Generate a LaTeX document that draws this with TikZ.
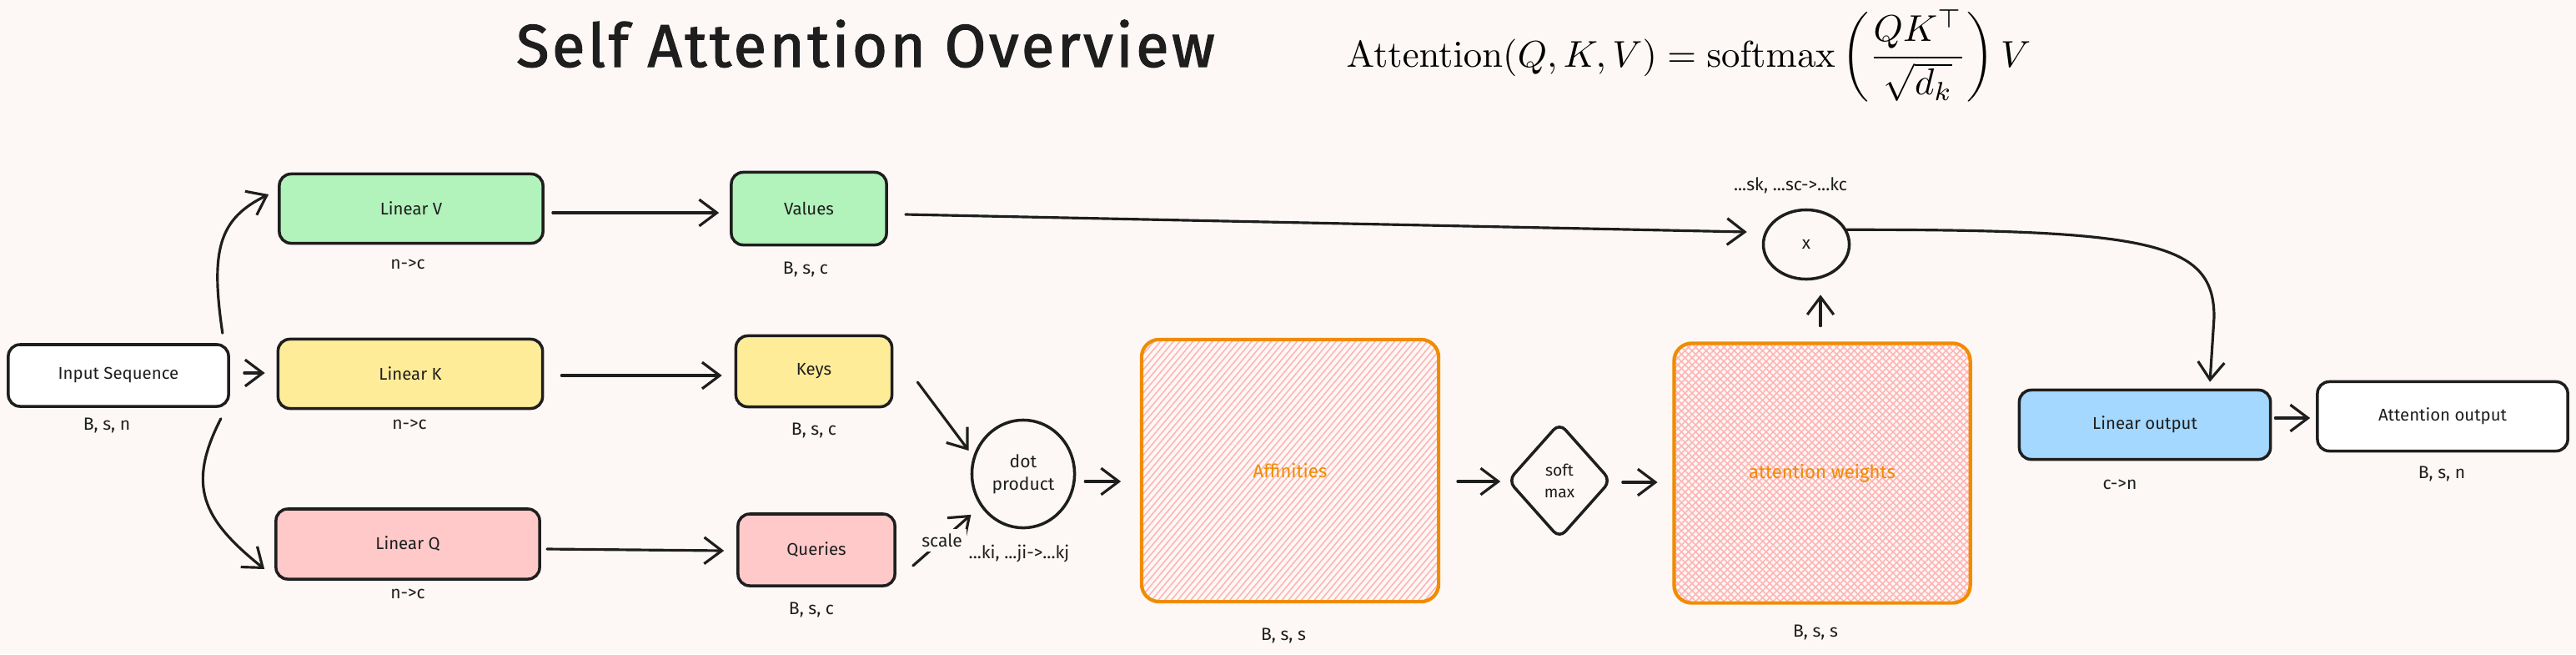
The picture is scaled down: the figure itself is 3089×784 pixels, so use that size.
\documentclass[tikz,border=0pt]{standalone}
\usepackage[no-math]{fontspec}
\setmainfont{Fira Sans}
\newfontfamily\titlefont{Fira Sans}[LetterSpace=5, FakeBold=1.8]
\usetikzlibrary{shapes.geometric, arrows.meta, patterns.meta, calc}
\definecolor{bg}{HTML}{FDF8F6}
\definecolor{ink}{HTML}{1E1E1E}
\definecolor{vgreen}{HTML}{B2F2BB}
\definecolor{kyellow}{HTML}{FFEC99}
\definecolor{qpink}{HTML}{FFC9C9}
\definecolor{oblue}{HTML}{A5D8FF}
\definecolor{orng}{HTML}{F08C00}
\definecolor{hatchc}{HTML}{FFB4B4}
\tikzset{
  box/.style={draw=ink, line width=1pt, rounded corners=4pt, inner sep=0pt,
    font=\fontsize{5.8pt}{7pt}\selectfont, text=ink},
  lbl/.style={font=\fontsize{6pt}{7pt}\selectfont, text=ink, inner sep=0pt},
  round/.style={draw=ink, line width=1pt, inner sep=0pt, align=center,
    font=\fontsize{6pt}{7.7pt}\selectfont, text=ink},
  big/.style={draw=orng, line width=1.2pt, rounded corners=6pt, inner sep=0pt,
    font=\fontsize{6.3pt}{7pt}\selectfont, text=orng},
  arr/.style={draw=ink, line width=0.9pt, line cap=round,
    -{Straight Barb[length=6pt,width=9pt,line width=0.9pt]}},
  onehatch/.style={pattern={Lines[angle=50,distance=1.7pt,line width=0.45pt]}, pattern color=hatchc},
  crosshatch/.style={pattern={Lines[angle=45,distance=1.7pt,line width=0.45pt]}, pattern color=hatchc,
    preaction={pattern={Lines[angle=-45,distance=1.7pt,line width=0.45pt]}, pattern color=hatchc}},
}
\begin{document}
\begin{tikzpicture}[x=0.01cm, y=-0.01cm]
\fill[bg] (0,0) rectangle (3089,784);
\useasboundingbox (0,0) rectangle (3089,784);

% title and formula
\node[anchor=base, inner sep=0pt, text=ink, font=\titlefont\fontsize{20.5pt}{24pt}\selectfont] (title) at (1038,80)
  {Self Attention Overview};
\node[anchor=base west, inner sep=0pt, text=black] (formula) at (1614,80)
  {\resizebox{8.2cm}{!}{$\displaystyle \mathrm{Attention}(Q,K,V)=\mathrm{softmax}\left(\frac{QK^{\top}}{\sqrt{d_k}}\right)V$}};

% boxes
\node[box, fill=white, minimum width=2.64cm, minimum height=0.74cm] (inp) at (142,450) {Input Sequence};
\node[box, fill=vgreen, minimum width=3.16cm, minimum height=0.83cm] (linv) at (493,250) {Linear V};
\node[box, fill=vgreen, minimum width=1.86cm, minimum height=0.87cm] (vals) at (970,250) {Values};
\node[box, fill=kyellow, minimum width=3.17cm, minimum height=0.83cm] (link) at (492,448) {Linear K};
\node[box, fill=kyellow, minimum width=1.87cm, minimum height=0.85cm] (keys) at (976,445) {Keys};
\node[box, fill=qpink, minimum width=3.16cm, minimum height=0.84cm] (linq) at (489,652) {Linear Q};
\node[box, fill=qpink, minimum width=1.88cm, minimum height=0.86cm] (qrys) at (979,659) {Queries};
\node[round, ellipse, minimum width=1.23cm, minimum height=1.29cm] (dot) at (1227,568) {dot\\product};
\node[big, onehatch, minimum width=3.56cm, minimum height=3.14cm] (aff) at (1547,564) {Affinities};
\node[round, diamond, rounded corners=3pt, minimum width=1.24cm, minimum height=1.39cm,
  font=\fontsize{5.5pt}{7.4pt}\selectfont] (smax) at (1870,576) {soft\\max};
\node[big, crosshatch, minimum width=3.55cm, minimum height=3.11cm] (attw) at (2185,567) {attention weights};
\node[round, ellipse, minimum width=1.03cm, minimum height=0.83cm] (mul) at (2166,293) {x};
\node[box, fill=oblue, minimum width=3.01cm, minimum height=0.83cm] (lout) at (2572,509) {Linear output};
\node[box, fill=white, minimum width=3.00cm, minimum height=0.83cm] (aout) at (2929,499) {Attention output};

% labels
\node[lbl] (linp) at (128,510) {B, s, n};
\node[lbl] (llinv) at (489,317) {n->c};
\node[lbl] (llink) at (491,509) {n->c};
\node[lbl] (llinq) at (489,712) {n->c};
\node[lbl] (lvals) at (966,323) {B, s, c};
\node[lbl] (lkeys) at (976,516) {B, s, c};
\node[lbl] (lqrys) at (973,731) {B, s, c};
\node[lbl] (ldot) at (1222,663) {...ki, ...ji->...kj};
\node[lbl] (laff) at (1539,762) {B, s, s};
\node[lbl] (lattw) at (2177,758) {B, s, s};
\node[lbl] (lmul) at (2147,222) {...sk, ...sc->...kc};
\node[lbl] (llout) at (2542,581) {c->n};
\node[lbl] (laout) at (2928,568) {B, s, n};

% connectors
\draw[arr] ($(inp.north east)+(-9,-12)$) .. controls +(-15,-101) and +(-59,29) .. ($(linv.west)+(-11,-17)$);
\draw[arr] ($(inp.east)+(17,-3)$) -- ($(link.west)+(-14,-1)$);
\draw[arr] ($(inp.south east)+(-11,13)$) .. controls +(-41,80) and +(-75,-60) .. ($(linq.west)+(-12,30)$);
\draw[arr] ($(linv.east)+(10,5)$) -- ($(vals.west)+(-13,5)$);
\draw[arr] ($(link.east)+(21,2)$) -- ($(keys.west)+(-15,5)$);
\draw[arr] ($(linq.east)+(7,6)$) -- ($(qrys.west)+(-15,1)$);
\draw[arr] ($(vals.east)+(21,7)$) -- ($(mul.west)+(-18,-15)$);
\draw[arr] ($(keys.east)+(29,13)$) -- ($(dot.150)+(-10,4)$);
\draw[arr] ($(qrys.east)+(20,19)$) -- node[lbl, fill=bg, inner sep=1.5pt] (lscale) {scale} ($(dot.215)+(-10,12)$);
\draw[arr] ($(dot.east)+(11,9)$) -- ($(aff.west)+(-24,13)$);
\draw[arr] ($(aff.east)+(22,13)$) -- ($(smax.west)+(-7,1)$);
\draw[arr] ($(smax.east)+(12,2)$) -- ($(attw.west)+(-19,11)$);
\draw[arr] ($(attw.north)+(-2,-20)$) -- ($(mul.south)+(17,17)$);
\coordinate (bend) at (2655,380);
\draw[arr] (mul.20) .. controls (2580,275) and (2655,290) .. (bend) -- ($(lout.north)+(78,-8)$);
\draw[arr] ($(lout.east)+(4,-8)$) -- ($(aout.west)+(-7,2)$);
\end{tikzpicture}
\end{document}
